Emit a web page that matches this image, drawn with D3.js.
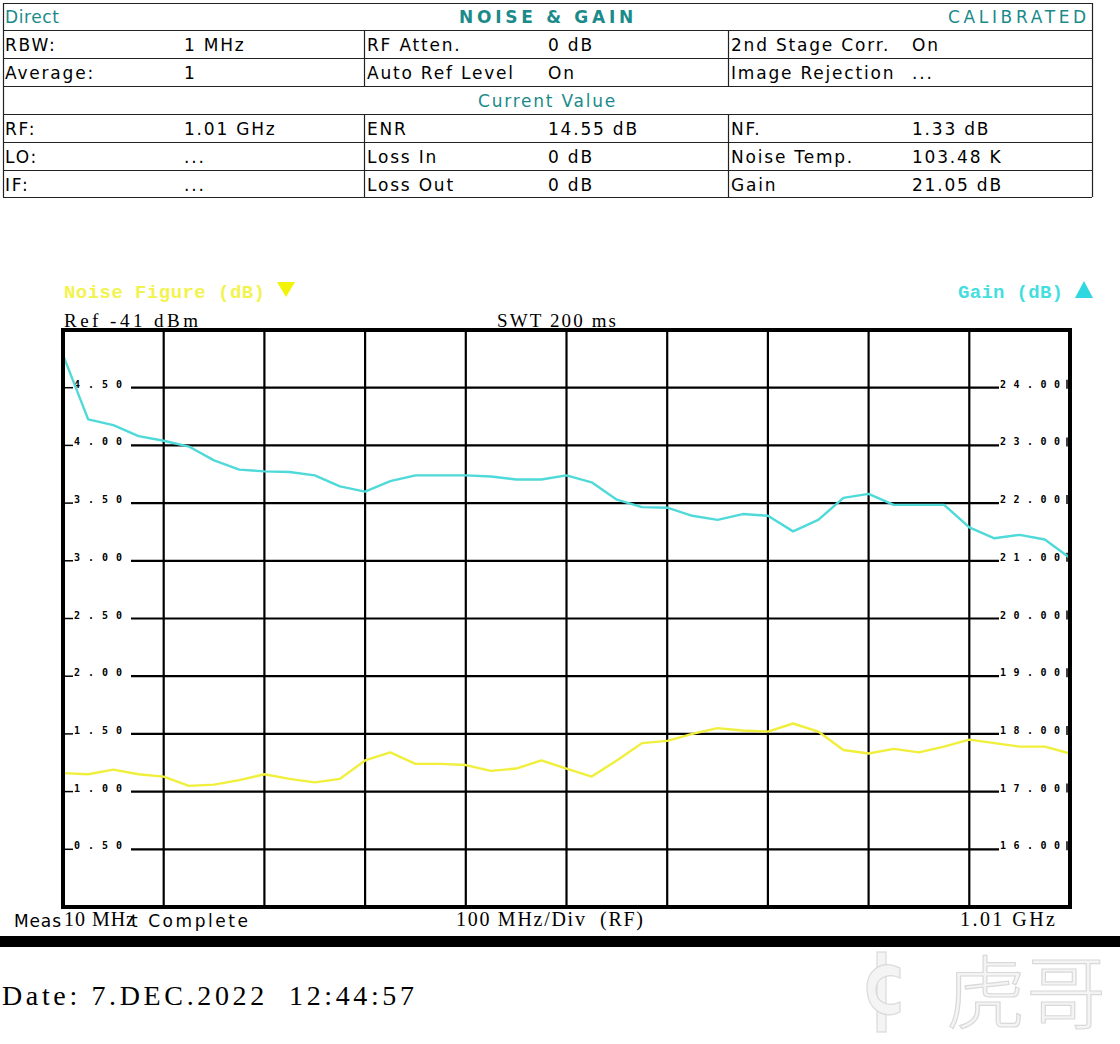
<!DOCTYPE html>
<html>
<head>
<meta charset="utf-8">
<script src="https://cdn.jsdelivr.net/npm/d3@7"></script>
<style>
  body { margin: 0; background: #fff; }
  svg { display: block; }
  .hdr { font-family: "DejaVu Sans", sans-serif; font-size: 17px; letter-spacing: 1.8px; fill: #000; }
  .teal { fill: #1a8a8a; }
  .scr { font-family: "Liberation Serif", serif; fill: #000; }
  .tick { font-family: "DejaVu Sans Mono", monospace; font-weight: bold; font-size: 10px; fill: #000; }
  .leg { font-family: "Liberation Mono", monospace; font-weight: bold; font-size: 19px; }
</style>
</head>
<body>
<svg id="chart" width="1120" height="1044"></svg>
<script>
// sweep points (MHz), 25 MHz apart
const freqMHz = [10, 35, 60, 85, 110, 135, 160, 185, 210, 235, 260, 285, 310, 335, 360, 385, 410, 435, 460, 485,
                 510, 535, 560, 585, 610, 635, 660, 685, 710, 735, 760, 785, 810, 835, 860, 885, 910, 935, 960, 985, 1010];
const gainDb = [24.57, 23.45, 23.35, 23.16, 23.08, 22.98, 22.74, 22.58, 22.55, 22.54, 22.48, 22.29, 22.20, 22.38, 22.48,
                22.48, 22.48, 22.46, 22.41, 22.41, 22.48, 22.36, 22.06, 21.93, 21.92, 21.78, 21.71, 21.81, 21.78, 21.51,
                21.71, 22.09, 22.16, 21.97, 21.97, 21.97, 21.58, 21.39, 21.45, 21.37, 21.05];
const noiseFigureDb = [1.16, 1.15, 1.19, 1.15, 1.13, 1.05, 1.06, 1.10, 1.15, 1.11, 1.08, 1.11, 1.27, 1.34, 1.24,
                       1.24, 1.23, 1.18, 1.20, 1.27, 1.20, 1.13, 1.27, 1.42, 1.44, 1.50, 1.55, 1.53, 1.52, 1.59,
                       1.52, 1.36, 1.33, 1.37, 1.34, 1.39, 1.45, 1.42, 1.39, 1.39, 1.33];

const nfTicks = [0.5, 1.0, 1.5, 2.0, 2.5, 3.0, 3.5, 4.0, 4.5];
const gainTicks = [16, 17, 18, 19, 20, 21, 22, 23, 24];
const freqGrid = [110, 210, 310, 410, 510, 610, 710, 810, 910];

const settingsRows = [
  ["RBW:", "1 MHz", "RF Atten.", "0 dB", "2nd Stage Corr.", "On"],
  ["Average:", "1", "Auto Ref Level", "On", "Image Rejection", "..."]
];
const currentRows = [
  ["RF:", "1.01 GHz", "ENR", "14.55 dB", "NF.", "1.33 dB"],
  ["LO:", "...", "Loss In", "0 dB", "Noise Temp.", "103.48 K"],
  ["IF:", "...", "Loss Out", "0 dB", "Gain", "21.05 dB"]
];

const svg = d3.select("#chart");

// ---------- header table ----------
const tbl = { left: 3, right: 1092, rowTops: [3, 30, 58, 86, 114, 142, 170, 197] };
const colX = [5, 184, 367, 548, 731, 912];
const dividers = [364, 728];
const head = svg.append("g");

tbl.rowTops.forEach(y => head.append("line")
  .attr("x1", tbl.left).attr("x2", tbl.right).attr("y1", y + 0.5).attr("y2", y + 0.5)
  .attr("stroke", "#222").attr("stroke-width", 1.2));
[tbl.left, tbl.right].forEach(x => head.append("line")
  .attr("x1", x + 0.5).attr("x2", x + 0.5).attr("y1", tbl.rowTops[0]).attr("y2", tbl.rowTops[7])
  .attr("stroke", "#222").attr("stroke-width", 1.2));
[[1, 3], [4, 7]].forEach(([a, b]) => dividers.forEach(x => head.append("line")
  .attr("x1", x + 0.5).attr("x2", x + 0.5).attr("y1", tbl.rowTops[a]).attr("y2", tbl.rowTops[b])
  .attr("stroke", "#222").attr("stroke-width", 1.2)));

head.append("text").attr("class", "hdr teal").attr("x", 5).attr("y", 23)
  .style("letter-spacing", "0.6px").text("Direct");
head.append("text").attr("class", "hdr teal").attr("x", 459).attr("y", 23)
  .attr("font-weight", "bold").attr("textLength", 176).attr("lengthAdjust", "spacing").text("NOISE & GAIN");
head.append("text").attr("class", "hdr teal").attr("x", 948).attr("y", 23)
  .attr("textLength", 140).attr("lengthAdjust", "spacing").text("CALIBRATED");
head.append("text").attr("class", "hdr teal").attr("x", 478).attr("y", 107)
  .attr("textLength", 139).attr("lengthAdjust", "spacing").text("Current Value");

function rowText(rows, firstTop) {
  rows.forEach((r, i) => {
    const base = tbl.rowTops[firstTop + i] + 21;
    r.forEach((t, j) => head.append("text").attr("class", "hdr")
      .attr("x", colX[j]).attr("y", base).text(t));
  });
}
rowText(settingsRows, 1);
rowText(currentRows, 4);

// ---------- trace area ----------
const plot = { left: 63, right: 1070, top: 330, bottom: 907 };
const x = d3.scaleLinear().domain([10, 1010]).range([plot.left, plot.right]);
const yNF = d3.scaleLinear().domain([0, 5]).range([plot.bottom, plot.top]);
const yGain = d3.scaleLinear().domain([15, 25]).range([plot.bottom, plot.top]);

const g = svg.append("g");

// vertical grid
g.selectAll(".vg").data(freqGrid).enter().append("line")
  .attr("x1", d => x(d)).attr("x2", d => x(d))
  .attr("y1", plot.top).attr("y2", plot.bottom)
  .attr("stroke", "#000").attr("stroke-width", 2.2);

// horizontal grid, broken by the labels at both ends
g.selectAll(".hg").data(nfTicks).enter().append("line")
  .attr("x1", 131).attr("x2", 999)
  .attr("y1", d => yNF(d)).attr("y2", d => yNF(d))
  .attr("stroke", "#000").attr("stroke-width", 2.2);

// left labels (noise figure)
const lt = g.selectAll(".lt").data(nfTicks).enter().append("g");
lt.append("line").attr("x1", plot.left).attr("x2", 73)
  .attr("y1", d => yNF(d)).attr("y2", d => yNF(d)).attr("stroke", "#000").attr("stroke-width", 1.5);
lt.append("text").attr("class", "tick").attr("x", 74).attr("y", d => yNF(d))
  .attr("textLength", 48).attr("lengthAdjust", "spacing")
  .text(d => d3.format(".2f")(d));

// right labels (gain)
const rt = g.selectAll(".rt").data(gainTicks).enter().append("g");
rt.append("text").attr("class", "tick").attr("x", 1000).attr("y", d => yGain(d))
  .attr("textLength", 60).attr("lengthAdjust", "spacing")
  .text(d => d3.format(".2f")(d));
rt.append("line").attr("x1", 1067).attr("x2", 1067)
  .attr("y1", d => yGain(d) - 8).attr("y2", d => yGain(d) + 1)
  .attr("stroke", "#000").attr("stroke-width", 1.5);

// traces
const nfLine = d3.line().x((d, i) => x(freqMHz[i])).y(d => yNF(d));
const gainLine = d3.line().x((d, i) => x(freqMHz[i])).y(d => yGain(d));
g.append("path").datum(noiseFigureDb).attr("d", nfLine)
  .attr("fill", "none").attr("stroke", "#efef3c").attr("stroke-width", 2.4).attr("stroke-linejoin", "round");
g.append("path").datum(gainDb).attr("d", gainLine)
  .attr("fill", "none").attr("stroke", "#4fd9d9").attr("stroke-width", 2.4).attr("stroke-linejoin", "round");

// frame
g.append("rect").attr("x", plot.left).attr("y", plot.top)
  .attr("width", plot.right - plot.left).attr("height", plot.bottom - plot.top)
  .attr("fill", "none").attr("stroke", "#000").attr("stroke-width", 4);

// legends
svg.append("text").attr("class", "leg").attr("x", 64).attr("y", 298).attr("fill", "#f3f350")
  .attr("textLength", 201).attr("lengthAdjust", "spacing").text("Noise Figure (dB)");
svg.append("path").attr("d", "M277,282 L295,282 L286,297 Z").attr("fill", "#f3f30a");
svg.append("text").attr("class", "leg").attr("x", 958).attr("y", 298).attr("fill", "#45dede")
  .attr("textLength", 105).attr("lengthAdjust", "spacing").text("Gain (dB)");
svg.append("path").attr("d", "M1075,298 L1093,298 L1084,281 Z").attr("fill", "#2fd8e0");

svg.append("text").attr("class", "scr").attr("x", 64).attr("y", 327).attr("font-size", 19)
  .attr("textLength", 134).attr("lengthAdjust", "spacing").text("Ref -41 dBm");
svg.append("text").attr("class", "scr").attr("x", 497).attr("y", 327).attr("font-size", 19)
  .attr("textLength", 119).attr("lengthAdjust", "spacing").text("SWT 200 ms");

// bottom status line
svg.append("text").attr("x", 14).attr("y", 927).attr("font-family", "DejaVu Sans").attr("font-size", 17)
  .attr("textLength", 47).attr("lengthAdjust", "spacing").text("Meas");
svg.append("text").attr("x", 131).attr("y", 927).attr("font-family", "DejaVu Sans").attr("font-size", 17)
  .attr("textLength", 117).attr("lengthAdjust", "spacing").text("t Complete");
svg.append("text").attr("class", "scr").attr("x", 64).attr("y", 926).attr("font-size", 20)
  .attr("textLength", 71).attr("lengthAdjust", "spacing").text("10 MHz");
svg.append("text").attr("class", "scr").attr("x", 456).attr("y", 926).attr("font-size", 20)
  .attr("textLength", 187).attr("lengthAdjust", "spacing").text("100 MHz/Div  (RF)").style("white-space", "pre");
svg.append("text").attr("class", "scr").attr("x", 960).attr("y", 926).attr("font-size", 20)
  .attr("textLength", 95).attr("lengthAdjust", "spacing").text("1.01 GHz");

svg.append("rect").attr("x", 0).attr("y", 936).attr("width", 1120).attr("height", 11).attr("fill", "#000");

svg.append("text").attr("class", "scr").attr("x", 2).attr("y", 1005).attr("font-size", 28)
  .attr("textLength", 412).attr("lengthAdjust", "spacing").style("white-space", "pre")
  .text("Date: 7.DEC.2022  12:44:57");

// watermark
const wm = svg.append("g").attr("fill", "#f4f4f4").attr("stroke", "#d9d9d9").attr("stroke-width", 1.2);
wm.append("rect").attr("x", 877).attr("y", 952).attr("width", 9).attr("height", 80);
wm.append("path").attr("d", "M900,968 C880,958 866,972 867,990 C868,1010 884,1020 900,1012 L900,1002 C888,1008 876,1002 876,990 C876,978 888,972 900,978 Z");
wm.append("text").attr("x", 946).attr("y", 1022).attr("font-family", "Noto Sans CJK SC")
  .attr("font-size", 80).attr("font-weight", 300).text("虎哥");
</script>
</body>
</html>
